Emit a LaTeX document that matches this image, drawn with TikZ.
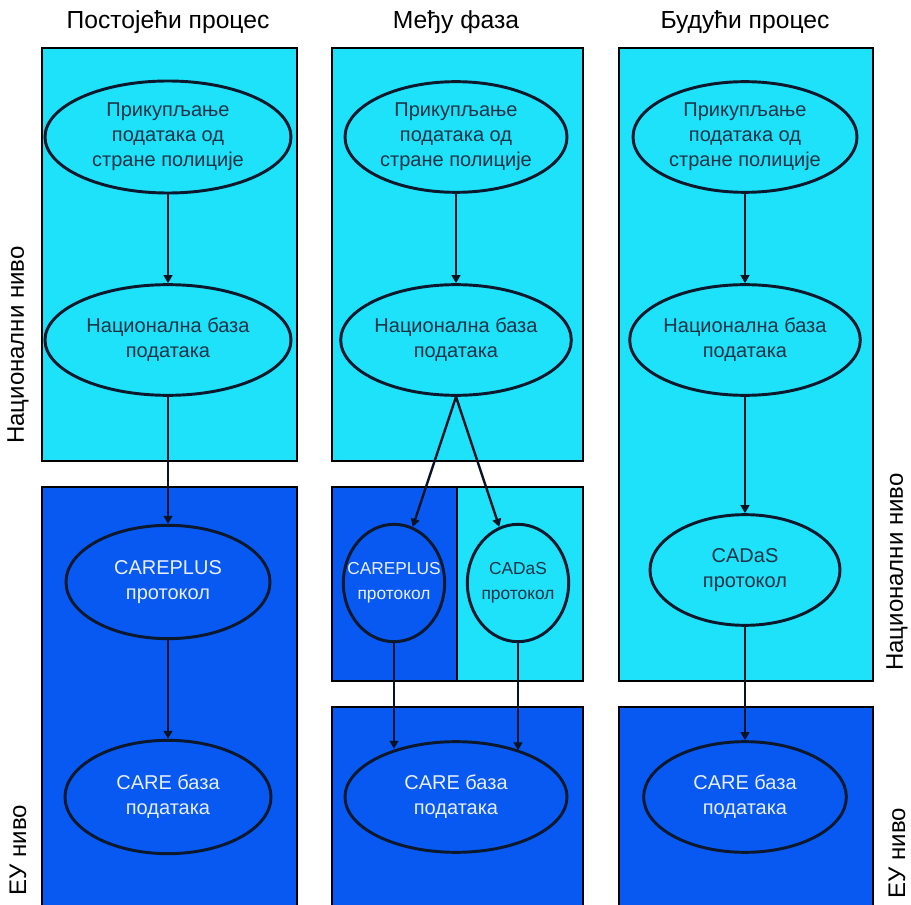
\documentclass[tikz,border=0pt]{standalone}
\usepackage{fontspec}
\setmainfont{Liberation Sans}
\usetikzlibrary{shapes.geometric,arrows.meta}
\definecolor{lightc}{RGB}{30,226,250}
\definecolor{darkc}{RGB}{8,88,242}
\definecolor{edgec}{RGB}{12,24,44}
\definecolor{ltxt}{RGB}{24,50,70}
\definecolor{dtxt}{RGB}{232,240,255}
\tikzset{
  lbox/.style={draw=black,line width=1.5pt,fill=lightc},
  dbox/.style={draw=black,line width=1.5pt,fill=darkc},
  el/.style={ellipse,draw=edgec,line width=2.2pt,inner sep=0pt,align=center,
    font=\fontsize{15}{18.75}\selectfont},
  lel/.style={el,fill=lightc,text=ltxt},
  del/.style={el,fill=darkc,text=dtxt},
  circ/.style={inner xsep=-9pt,minimum width=76pt,minimum height=88pt,
    font=\fontsize{13}{18.5}\selectfont},
  arr/.style={draw=edgec!80!black,line width=1.8pt,-{Triangle[length=6pt,width=6.5pt]}},
  ttl/.style={font=\fontsize{18.5}{22}\selectfont,text=black},
  side/.style={font=\fontsize{18}{22}\selectfont,text=black,rotate=90}
}
\begin{document}
\begin{tikzpicture}[x=0.75pt,y=-0.75pt]
\clip (0,0) rectangle (911,905);
\fill[white] (0,0) rectangle (911,905);
% titles
\node[ttl] (t1) at (168,22) {Постојећи процес};
\node[ttl] (t2) at (456,22) {Међу фаза};
\node[ttl] (t3) at (745,22) {Будући процес};
% side labels
\node[side] (sl1) at (18,345) {Национални ниво};
\node[side] (sl2) at (18,850) {ЕУ ниво};
\node[side] (sr1) at (897,572) {Национални ниво};
\node[side] (sr2) at (897,853) {ЕУ ниво};
% boxes
\path[lbox] (42,48) rectangle (297,461);
\path[dbox] (42,487) rectangle (297,915);
\path[lbox] (332,48) rectangle (583,461);
\path[dbox] (332,487) rectangle (457,681);
\path[lbox] (457,487) rectangle (583,681);
\path[dbox] (332,707) rectangle (583,915);
\path[lbox] (619,48) rectangle (873,681);
\path[dbox] (619,707) rectangle (873,915);
% column 1
\node[lel,minimum width=184.5pt,minimum height=84pt] (a1) at (168,137) {Прикупљање\\података од\\стране полиције};
\node[lel,minimum width=184.5pt,minimum height=83pt] (a2) at (168,340) {Национална база\\података};
\node[del,minimum width=153pt,minimum height=85pt] (a3) at (168,582) {CAREPLUS\\протокол};
\node[del,minimum width=154.5pt,minimum height=85pt] (a4) at (168,797) {CARE база\\података};
% column 2
\node[lel,minimum width=166.5pt,minimum height=83pt] (b1) at (456,137) {Прикупљање\\података од\\стране полиције};
\node[lel,minimum width=166.5pt,minimum height=83pt] (b2) at (456,340) {Национална база\\података};
\node[del,circ] (b3) at (394,583) {CAREPLUS\\протокол};
\node[lel,circ] (b4) at (518,583) {CADaS\\протокол};
\node[del,minimum width=166.5pt,minimum height=83pt] (b5) at (456,797) {CARE база\\података};
% column 3
\node[lel,minimum width=168pt,minimum height=83pt] (c1) at (745,137) {Прикупљање\\података од\\стране полиције};
\node[lel,minimum width=168pt,minimum height=83pt] (c2) at (745,340) {Национална база\\података};
\node[lel,minimum width=142.5pt,minimum height=83pt] (c3) at (745,570) {CADaS\\протокол};
\node[del,minimum width=152pt,minimum height=83pt] (c4) at (745,797) {CARE база\\података};
% arrows
\draw[arr] (a1) -- (a2);
\draw[arr] (a2) -- (a3);
\draw[arr] (a3) -- (a4);
\draw[arr] (b1) -- (b2);
\draw[arr] (b2.south) -- (b3);
\draw[arr] (b2.south) -- (b4);
\draw[arr] (b3.south) -- (b3.south |- b5.141);
\draw[arr] (b4.south) -- (b4.south |- b5.36);
\draw[arr] (c1) -- (c2);
\draw[arr] (c2) -- (c3);
\draw[arr] (c3) -- (c4);
\end{tikzpicture}
\end{document}
